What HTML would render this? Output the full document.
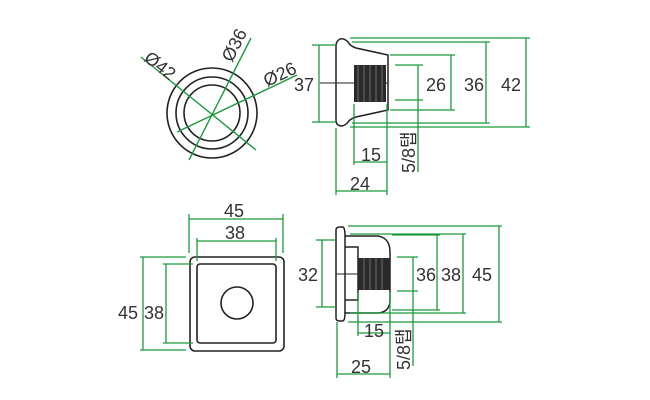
<!DOCTYPE html>
<html><head><meta charset="utf-8"><style>
html,body{margin:0;padding:0;background:#fff;}
svg{display:block;}
text{font-family:"Liberation Sans","Noto Sans CJK KR",sans-serif;fill:#333;font-size:18px;}
</style></head><body>
<svg width="650" height="400" viewBox="0 0 650 400" xmlns="http://www.w3.org/2000/svg">
<g fill="none" stroke="#222" stroke-width="1.6">
<circle cx="212" cy="113" r="45"/>
<circle cx="212" cy="113" r="36"/>
<circle cx="212" cy="113" r="28"/>
</g>
<g stroke="#1a9a3a" stroke-width="1.4">
<line x1="141" y1="57" x2="256" y2="150"/>
<line x1="189" y1="160" x2="251" y2="38"/>
<line x1="177" y1="132" x2="297" y2="75"/>
</g>
<text transform="translate(143,60) rotate(38)">Ø42</text>
<text transform="translate(232,63) rotate(-63)">Ø36</text>
<text transform="translate(267,87) rotate(-25)">Ø26</text>

<!-- top side view -->
<g fill="none" stroke="#222" stroke-width="1.5">
<path d="M348,42 Q344,38 340,39 Q336,41 336,46 L336,120 Q336,126 342,126 Q346,125 348,122 Q350,119 356,117 L388,110 L388,55 L356,48 Q350,46 348,42 Z"/>
<line x1="320" y1="83" x2="388" y2="83" stroke-width="1"/>
</g>
<rect x="354" y="65" width="32" height="37" fill="#2a2a2a"/>
<g stroke="#999" stroke-width="0.6">
<line x1="358" y1="65" x2="358" y2="102"/><line x1="364" y1="65" x2="364" y2="102"/><line x1="370" y1="65" x2="370" y2="102"/><line x1="376" y1="65" x2="376" y2="102"/><line x1="382" y1="65" x2="382" y2="102"/>
</g>
<g stroke="#1a9a3a" stroke-width="1.3" fill="none">
<line x1="312" y1="45" x2="336" y2="45"/><line x1="312" y1="122" x2="336" y2="122"/><line x1="319" y1="45" x2="319" y2="122"/>
<line x1="390" y1="55" x2="455" y2="55"/><line x1="390" y1="110" x2="455" y2="110"/><line x1="451" y1="55" x2="451" y2="110"/>
<line x1="352" y1="42" x2="490" y2="42"/><line x1="352" y1="123" x2="490" y2="123"/><line x1="486" y1="42" x2="486" y2="123"/>
<line x1="350" y1="38" x2="530" y2="38"/><line x1="350" y1="127" x2="530" y2="127"/><line x1="526" y1="38" x2="526" y2="127"/>
<line x1="395" y1="65" x2="423" y2="65"/><line x1="395" y1="100" x2="423" y2="100"/><line x1="418" y1="65" x2="418" y2="172"/>
<line x1="336" y1="128" x2="336" y2="195"/><line x1="354" y1="104" x2="354" y2="165"/><line x1="387" y1="104" x2="387" y2="195"/>
<line x1="354" y1="162" x2="387" y2="162"/><line x1="336" y1="191" x2="387" y2="191"/>
</g>
<text x="294" y="91">37</text>
<text x="426" y="91">26</text>
<text x="464" y="91">36</text>
<text x="501" y="91">42</text>
<text x="361" y="161">15</text>
<text x="350" y="190">24</text>
<text transform="translate(415,173) rotate(-90)" font-size="17">5/8탭</text>

<!-- bottom left -->
<rect x="190" y="257" width="94" height="94" rx="5" fill="none" stroke="#222" stroke-width="1.6"/>
<rect x="197" y="264" width="79" height="79" rx="3" fill="none" stroke="#222" stroke-width="1.6"/>
<circle cx="237" cy="303" r="16" fill="none" stroke="#222" stroke-width="1.6"/>
<g stroke="#1a9a3a" stroke-width="1.3">
<line x1="189" y1="219" x2="283" y2="219"/><line x1="189" y1="214" x2="189" y2="253"/><line x1="283" y1="214" x2="283" y2="253"/>
<line x1="197" y1="241" x2="276" y2="241"/><line x1="197" y1="238" x2="197" y2="261"/><line x1="276" y1="238" x2="276" y2="261"/>
<line x1="143" y1="257" x2="143" y2="350"/><line x1="140" y1="257" x2="186" y2="257"/><line x1="140" y1="350" x2="186" y2="350"/>
<line x1="166" y1="264" x2="166" y2="343"/><line x1="163" y1="264" x2="193" y2="264"/><line x1="163" y1="343" x2="193" y2="343"/>
</g>
<text x="224" y="217">45</text>
<text x="225" y="239">38</text>
<text x="118" y="319">45</text>
<text x="144" y="319">38</text>

<!-- bottom side view -->
<g fill="none" stroke="#222" stroke-width="1.5">
<path d="M336,230 Q336,227 340,227 L343,227 Q345,228 345,236 L378,236 Q390,238 390,252 L390,300 Q390,312 378,313 L345,313 Q345,320 343,321 L340,321 Q336,321 336,318 Z"/>
<line x1="345" y1="236" x2="345" y2="313"/>
<line x1="336" y1="274" x2="390" y2="274" stroke-width="1"/>
<path d="M345,247 L358,247 L358,300 L345,300"/>
</g>
<rect x="358" y="258" width="32" height="32" fill="#2a2a2a"/>
<g stroke="#999" stroke-width="0.6">
<line x1="364" y1="258" x2="364" y2="290"/><line x1="370" y1="258" x2="370" y2="290"/><line x1="376" y1="258" x2="376" y2="290"/><line x1="382" y1="258" x2="382" y2="290"/>
</g>
<g stroke="#1a9a3a" stroke-width="1.3">
<line x1="316" y1="240" x2="336" y2="240"/><line x1="316" y1="307" x2="336" y2="307"/><line x1="322" y1="240" x2="322" y2="307"/>
<line x1="397" y1="257" x2="418" y2="257"/><line x1="397" y1="291" x2="418" y2="291"/><line x1="413" y1="257" x2="413" y2="366"/>
<line x1="392" y1="235" x2="440" y2="235"/><line x1="392" y1="310" x2="440" y2="310"/><line x1="437" y1="235" x2="437" y2="310"/>
<line x1="350" y1="234" x2="466" y2="234"/><line x1="350" y1="313" x2="466" y2="313"/><line x1="463" y1="234" x2="463" y2="313"/>
<line x1="348" y1="226" x2="502" y2="226"/><line x1="348" y1="322" x2="502" y2="322"/><line x1="499" y1="226" x2="499" y2="322"/>
<line x1="358" y1="292" x2="358" y2="336"/><line x1="390" y1="292" x2="390" y2="378"/><line x1="337" y1="322" x2="337" y2="378"/>
<line x1="358" y1="333" x2="390" y2="333"/><line x1="337" y1="374" x2="390" y2="374"/>
</g>
<text x="298" y="281">32</text>
<text x="416" y="281">36</text>
<text x="441" y="281">38</text>
<text x="472" y="281">45</text>
<text x="364" y="337">15</text>
<text x="351" y="373">25</text>
<text transform="translate(410,370) rotate(-90)" font-size="17">5/8탭</text>
</svg>
</body></html>
